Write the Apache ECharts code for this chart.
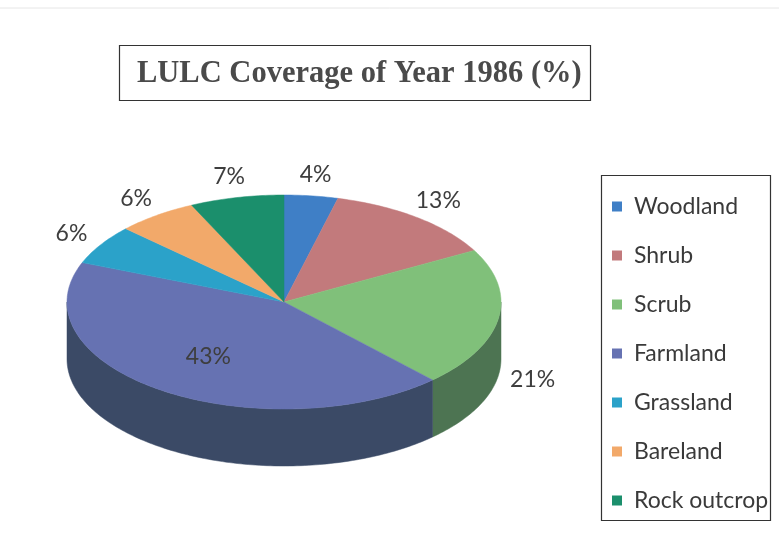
<!DOCTYPE html>
<html>
<head>
<meta charset="utf-8">
<script src="https://cdn.jsdelivr.net/npm/echarts@6/dist/echarts.min.js"></script>
<style>
  html, body { margin: 0; padding: 0; background: #ffffff; }
  #chart { width: 779px; height: 558px; }
</style>
</head>
<body>
<div id="chart"></div>
<script>
// Land use / land cover shares for 1986, in percent
const categories = ['Woodland', 'Shrub', 'Scrub', 'Farmland', 'Grassland', 'Bareland', 'Rock outcrop'];
const shares = [4, 13, 21, 43, 6, 6, 7];

// Slice colours: top face and darker side wall
const topColors  = ['#3f7fc6', '#c27a7c', '#80c07a', '#6672b2', '#2ba2c9', '#f2a96a', '#1b8f6c'];
const sideColors = ['#2c5a8c', '#8a5052', '#4d7452', '#3b4a66', '#1f7290', '#b07848', '#13654c'];

// Tilted pie geometry (pixels)
const CX = 284, CY = 302, RX = 217, RY = 107, DEPTH = 57;

const total = shares.reduce((a, b) => a + b, 0);
const startFrac = shares.map((v, i) => shares.slice(0, i).reduce((a, b) => a + b, 0) / total);

// angle measured clockwise from 12 o'clock
function pt(theta, dy) {
  return [CX + RX * Math.sin(theta), CY - RY * Math.cos(theta) + dy];
}
function arc(a, b, dy) {
  const pts = [];
  const n = Math.max(2, Math.ceil((b - a) / (Math.PI / 180)));
  for (let k = 0; k <= n; k++) pts.push(pt(a + (b - a) * k / n, dy));
  return pts;
}

function makeRender(i) {
  return function (params, api) {
    const value = api.value(0);
    const a = startFrac[i] * Math.PI * 2;
    const b = a + value / total * Math.PI * 2;
    const children = [];

    // front side wall (only the part facing the viewer)
    const s = Math.max(a, Math.PI / 2), e = Math.min(b, Math.PI * 1.5);
    if (e > s) {
      const pts = arc(s, e, 0).concat(arc(s, e, DEPTH).reverse());
      children.push({
        type: 'polygon', z2: 1,
        shape: { points: pts },
        style: { fill: sideColors[i], stroke: sideColors[i], lineWidth: 0.5 }
      });
    }

    // top face
    children.push({
      type: 'polygon', z2: 2,
      shape: { points: [[CX, CY]].concat(arc(a, b, 0)) },
      style: { fill: topColors[i], stroke: topColors[i], lineWidth: 0.5 }
    });

    // percentage label
    const mid = (a + b) / 2;
    let lx, ly;
    if (value >= 30) {
      lx = CX + RX * 0.62 * Math.sin(mid);
      ly = CY - RY * 0.62 * Math.cos(mid);
    } else {
      lx = CX + RX * 1.16 * Math.sin(mid);
      ly = CY - RY * 1.2 * Math.cos(mid) + (Math.cos(mid) < 0 ? DEPTH : 0);
    }
    children.push({
      type: 'text', z2: 3,
      style: {
        x: lx, y: ly, text: value + '%',
        fill: '#3e3e3e', font: '23px Lato',
        align: 'center', verticalAlign: 'middle'
      }
    });

    return { type: 'group', children: children };
  };
}

const series = categories.map((name, i) => ({
  type: 'custom',
  name: name,
  coordinateSystem: 'none',
  itemStyle: { color: topColors[i] },
  data: [[shares[i]]],
  renderItem: makeRender(i),
  silent: true,
  animation: false
}));

const chart = echarts.init(document.getElementById('chart'), null, { renderer: 'canvas' });
chart.setOption({
  backgroundColor: '#ffffff',
  animation: false,
  title: {
    text: 'LULC Coverage of Year 1986 (%)',
    left: 137, top: 59,
    padding: 0,
    textStyle: { fontFamily: 'Liberation Serif', fontWeight: 'bold', fontSize: 30.5, color: '#4a4a4a' }
  },
  legend: {
    orient: 'vertical',
    left: 612, top: 195,
    padding: 0,
    itemWidth: 10, itemHeight: 10, itemGap: 26,
    icon: 'rect',
    data: categories,
    textStyle: { fontFamily: 'Lato', fontSize: 23, color: '#3a3a3a', lineHeight: 23, padding: [0, 0, 0, 7] }
  },
  graphic: [
    { type: 'line', shape: { x1: 0, y1: 8, x2: 779, y2: 8 }, style: { stroke: '#e6e6e6', lineWidth: 1 } },
    { type: 'rect', shape: { x: 119.5, y: 45.5, width: 471, height: 55 }, style: { fill: 'none', stroke: '#333', lineWidth: 1.2 } },
    { type: 'rect', shape: { x: 601.5, y: 175.5, width: 169, height: 345 }, style: { fill: 'none', stroke: '#333', lineWidth: 1.2 } }
  ],
  series: series
});
</script>
</body>
</html>
